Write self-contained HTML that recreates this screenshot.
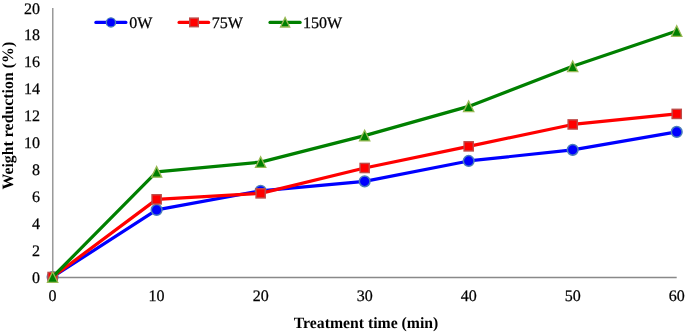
<!DOCTYPE html>
<html><head><meta charset="utf-8"><style>
html,body{margin:0;padding:0;background:#fff;}
body{width:685px;height:333px;overflow:hidden;}
svg{display:block;will-change:transform;}
text{text-rendering:geometricPrecision;}
.t{font-family:"Liberation Serif",serif;font-size:16px;fill:#000;stroke:#000;stroke-width:0.25px;}
.b{font-family:"Liberation Serif",serif;font-size:16px;font-weight:bold;fill:#000;}
</style></head><body>
<svg width="685" height="333" viewBox="0 0 685 333">
<line x1="52.8" y1="8.1" x2="52.8" y2="277.5" stroke="#898989" stroke-width="1.3"/>
<line x1="52.8" y1="277.5" x2="676.7" y2="277.5" stroke="#898989" stroke-width="1.3"/>
<text x="40" y="277.20" dy="0.34em" text-anchor="end" class="t">0</text>
<text x="40" y="250.29" dy="0.34em" text-anchor="end" class="t">2</text>
<text x="40" y="223.38" dy="0.34em" text-anchor="end" class="t">4</text>
<text x="40" y="196.47" dy="0.34em" text-anchor="end" class="t">6</text>
<text x="40" y="169.56" dy="0.34em" text-anchor="end" class="t">8</text>
<text x="40" y="142.65" dy="0.34em" text-anchor="end" class="t">10</text>
<text x="40" y="115.74" dy="0.34em" text-anchor="end" class="t">12</text>
<text x="40" y="88.83" dy="0.34em" text-anchor="end" class="t">14</text>
<text x="40" y="61.92" dy="0.34em" text-anchor="end" class="t">16</text>
<text x="40" y="35.01" dy="0.34em" text-anchor="end" class="t">18</text>
<text x="40" y="8.10" dy="0.34em" text-anchor="end" class="t">20</text>
<text x="52.60" y="300.8" text-anchor="middle" class="t">0</text>
<text x="156.62" y="300.8" text-anchor="middle" class="t">10</text>
<text x="260.64" y="300.8" text-anchor="middle" class="t">20</text>
<text x="364.66" y="300.8" text-anchor="middle" class="t">30</text>
<text x="468.68" y="300.8" text-anchor="middle" class="t">40</text>
<text x="572.70" y="300.8" text-anchor="middle" class="t">50</text>
<text x="676.72" y="300.8" text-anchor="middle" class="t">60</text>
<text x="366.05" y="328.4" text-anchor="middle" class="b" style="font-size:15.75px">Treatment time (min)</text>
<text transform="translate(13.1 115.7) rotate(-90)" text-anchor="middle" class="b" style="font-size:15.87px">Weight reduction (%)</text>
<polyline points="52.60,277.00 156.62,209.90 260.64,190.80 364.66,181.35 468.68,160.95 572.70,149.85 676.72,131.90" fill="none" stroke="#0000FF" stroke-width="3.2" stroke-linejoin="round" stroke-linecap="round"/>
<circle cx="52.60" cy="277.00" r="5.35" fill="#0000FF" stroke="#4A7EBB" stroke-width="1.5"/>
<circle cx="156.62" cy="209.90" r="5.35" fill="#0000FF" stroke="#4A7EBB" stroke-width="1.5"/>
<circle cx="260.64" cy="190.80" r="5.35" fill="#0000FF" stroke="#4A7EBB" stroke-width="1.5"/>
<circle cx="364.66" cy="181.35" r="5.35" fill="#0000FF" stroke="#4A7EBB" stroke-width="1.5"/>
<circle cx="468.68" cy="160.95" r="5.35" fill="#0000FF" stroke="#4A7EBB" stroke-width="1.5"/>
<circle cx="572.70" cy="149.85" r="5.35" fill="#0000FF" stroke="#4A7EBB" stroke-width="1.5"/>
<circle cx="676.72" cy="131.90" r="5.35" fill="#0000FF" stroke="#4A7EBB" stroke-width="1.5"/>
<polyline points="52.60,277.00 156.62,199.35 260.64,193.35 364.66,168.00 468.68,146.35 572.70,124.45 676.72,113.90" fill="none" stroke="#FF0000" stroke-width="3.2" stroke-linejoin="round" stroke-linecap="round"/>
<rect x="48.00" y="272.40" width="9.2" height="9.2" fill="#FF0000" stroke="#BE4B48" stroke-width="1.4"/>
<rect x="152.02" y="194.75" width="9.2" height="9.2" fill="#FF0000" stroke="#BE4B48" stroke-width="1.4"/>
<rect x="256.04" y="188.75" width="9.2" height="9.2" fill="#FF0000" stroke="#BE4B48" stroke-width="1.4"/>
<rect x="360.06" y="163.40" width="9.2" height="9.2" fill="#FF0000" stroke="#BE4B48" stroke-width="1.4"/>
<rect x="464.08" y="141.75" width="9.2" height="9.2" fill="#FF0000" stroke="#BE4B48" stroke-width="1.4"/>
<rect x="568.10" y="119.85" width="9.2" height="9.2" fill="#FF0000" stroke="#BE4B48" stroke-width="1.4"/>
<rect x="672.12" y="109.30" width="9.2" height="9.2" fill="#FF0000" stroke="#BE4B48" stroke-width="1.4"/>
<polyline points="52.60,277.00 156.62,171.90 260.64,162.10 364.66,135.60 468.68,106.40 572.70,66.30 676.72,31.00" fill="none" stroke="#008000" stroke-width="3.2" stroke-linejoin="round" stroke-linecap="round"/>
<path d="M52.60 271.70 L57.75 282.30 L47.45 282.30 Z" fill="#008000" stroke="#98B954" stroke-width="1.3" stroke-linejoin="miter"/>
<path d="M156.62 166.60 L161.77 177.20 L151.47 177.20 Z" fill="#008000" stroke="#98B954" stroke-width="1.3" stroke-linejoin="miter"/>
<path d="M260.64 156.80 L265.79 167.40 L255.49 167.40 Z" fill="#008000" stroke="#98B954" stroke-width="1.3" stroke-linejoin="miter"/>
<path d="M364.66 130.30 L369.81 140.90 L359.51 140.90 Z" fill="#008000" stroke="#98B954" stroke-width="1.3" stroke-linejoin="miter"/>
<path d="M468.68 101.10 L473.83 111.70 L463.53 111.70 Z" fill="#008000" stroke="#98B954" stroke-width="1.3" stroke-linejoin="miter"/>
<path d="M572.70 61.00 L577.85 71.60 L567.55 71.60 Z" fill="#008000" stroke="#98B954" stroke-width="1.3" stroke-linejoin="miter"/>
<path d="M676.72 25.70 L681.87 36.30 L671.57 36.30 Z" fill="#008000" stroke="#98B954" stroke-width="1.3" stroke-linejoin="miter"/>
<line x1="95.9" y1="22.4" x2="125.9" y2="22.4" stroke="#0000FF" stroke-width="3.2" stroke-linecap="round"/>
<circle cx="110.95" cy="22.40" r="4.6" fill="#0000FF" stroke="#4A7EBB" stroke-width="1.3"/>
<text x="129.25" y="27.70" class="t">0W</text>
<line x1="179.1" y1="22.4" x2="208.6" y2="22.4" stroke="#FF0000" stroke-width="3.2" stroke-linecap="round"/>
<rect x="189.70" y="18.10" width="8.6" height="8.6" fill="#FF0000" stroke="#BE4B48" stroke-width="1.4"/>
<text x="211.7" y="27.70" class="t">75W</text>
<line x1="270" y1="22.4" x2="300.1" y2="22.4" stroke="#008000" stroke-width="3.2" stroke-linecap="round"/>
<path d="M285.10 17.60 L289.70 27.00 L280.50 27.00 Z" fill="#008000" stroke="#98B954" stroke-width="1.3" stroke-linejoin="miter"/>
<text x="303.1" y="27.70" class="t">150W</text>
</svg>
</body></html>
